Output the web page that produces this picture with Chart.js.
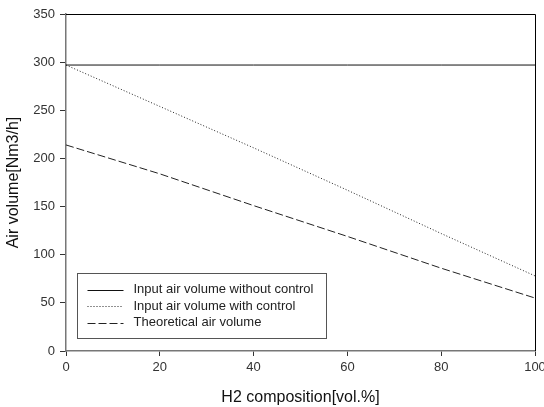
<!DOCTYPE html>
<html>
<head>
<meta charset="utf-8">
<script src="https://cdn.jsdelivr.net/npm/chart.js@4/dist/chart.umd.min.js"></script>
<style>
  html, body { margin: 0; padding: 0; background: #fff; }
  #wrap { width: 544px; height: 407px; }
</style>
</head>
<body>
<div id="wrap"><canvas id="airChart" width="544" height="407"></canvas></div>
<script>
// H2 composition [vol.%]
const h2Composition = [0, 20, 40, 60, 80, 100]
// air volume series [Nm3/h]
const withoutControl = [297, 297, 297, 297, 297, 297]
const withControl = [297, 254, 211, 167, 122, 78]
const theoretical = [214, 184, 151, 119, 86, 55]

const seriesLabels = [
    'Input air volume without control',
    'Input air volume with control',
    'Theoretical air volume'
]

const FONT = '"Liberation Sans", Arial, sans-serif'

const toPoints = (ys) => h2Composition.map((x, i) => ({ x: x, y: ys[i] }))

// frame on top and right + legend box inside the plot
const framePlugin = {
    id: 'frameAndLegend',
    afterDraw(chart) {
        const { ctx, chartArea } = chart
        const { left, right, top, bottom } = chartArea
        ctx.save()
        ctx.strokeStyle = '#000'
        ctx.lineWidth = 1
        ctx.beginPath()
        ctx.moveTo(left, top + 0.5)
        ctx.lineTo(right + 0.5, top + 0.5)
        ctx.lineTo(right + 0.5, bottom)
        ctx.stroke()

        // legend
        const bx = left + 11.5, by = bottom - 77.5
        ctx.strokeStyle = '#555'
        ctx.fillStyle = '#fff'
        ctx.fillRect(bx, by, 249, 65)
        ctx.strokeRect(bx, by, 249, 65)
        ctx.font = '13px ' + FONT
        ctx.textBaseline = 'middle'
        chart.data.datasets.forEach((ds, i) => {
            const y = by + 16 + i * 16.5
            ctx.strokeStyle = ds.borderColor
            ctx.lineWidth = 1
            ctx.setLineDash(ds.borderDash || [])
            ctx.beginPath()
            ctx.moveTo(bx + 10, Math.round(y) + 0.5)
            ctx.lineTo(bx + 46, Math.round(y) + 0.5)
            ctx.stroke()
            ctx.setLineDash([])
            ctx.fillStyle = '#222'
            ctx.fillText(ds.label, bx + 56, y)
        })
        ctx.restore()
    }
}

const ctx = document.getElementById('airChart')
new Chart(ctx, {
    type: 'line',
    data: {
        datasets: [{
            label: seriesLabels[0],
            data: toPoints(withoutControl),
            borderColor: '#111',
            borderWidth: 1,
            pointRadius: 0,
            fill: false
        }, {
            label: seriesLabels[1],
            data: toPoints(withControl),
            borderColor: '#222',
            borderWidth: 1,
            borderDash: [1, 2],
            pointRadius: 0,
            fill: false
        }, {
            label: seriesLabels[2],
            data: toPoints(theoretical),
            borderColor: '#222',
            borderWidth: 1,
            borderDash: [8, 3],
            pointRadius: 0,
            fill: false
        }]
    },
    options: {
        responsive: false,
        animation: false,
        layout: { padding: { top: 14, right: 0, left: 0, bottom: 0 } },
        plugins: {
            legend: { display: false },
            tooltip: { enabled: false }
        },
        scales: {
            x: {
                type: 'linear',
                min: 0,
                max: 100,
                ticks: {
                    stepSize: 20,
                    color: '#333',
                    padding: 4,
                    font: { family: FONT, size: 13 }
                },
                grid: { drawOnChartArea: false, tickLength: 5, color: '#333', tickColor: '#333' },
                border: { color: '#777', width: 1.5 },
                title: {
                    display: true,
                    text: 'H2 composition[vol.%]',
                    color: '#111',
                    padding: { top: 4, bottom: 0 },
                    font: { family: FONT, size: 16 }
                },
                afterFit: (axis) => {
                    axis.height = 56
                    axis.paddingRight = 9
                    axis.paddingLeft = 0
                }
            },
            y: {
                min: 0,
                max: 350,
                ticks: {
                    stepSize: 50,
                    color: '#333',
                    padding: 5,
                    font: { family: FONT, size: 13 }
                },
                grid: { drawOnChartArea: false, tickLength: 6, color: '#333', tickColor: '#333' },
                border: { color: '#777', width: 1.5 },
                title: {
                    display: true,
                    text: 'Air volume[Nm3/h]',
                    color: '#111',
                    padding: { top: 4, bottom: 4 },
                    font: { family: FONT, size: 16 }
                },
                afterFit: (axis) => {
                    axis.width = 66
                    axis.paddingTop = 0
                    axis.paddingBottom = 0
                }
            }
        }
    },
    plugins: [framePlugin]
})
</script>
</body>
</html>
